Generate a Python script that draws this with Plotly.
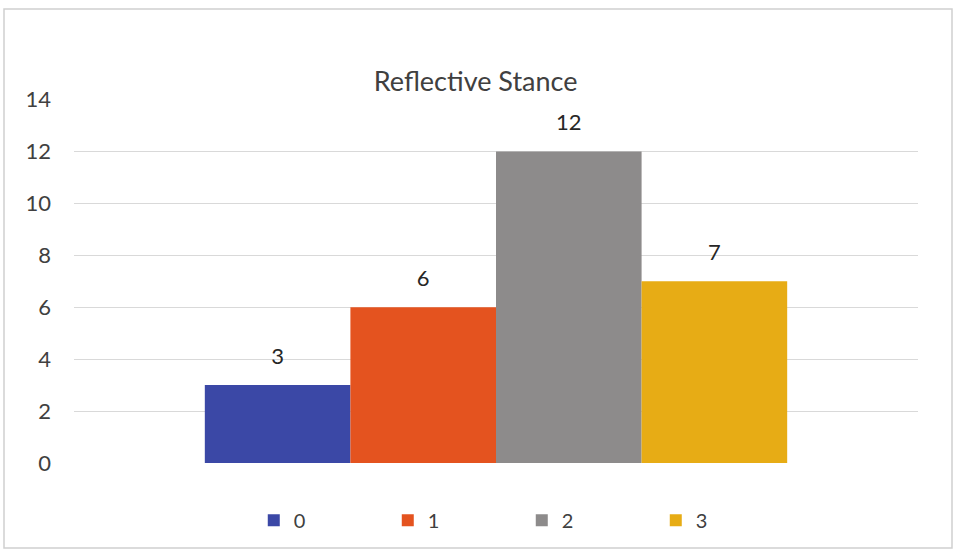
import plotly.graph_objects as go

categories = [""]
series_names = ["0", "1", "2", "3"]
series_values = [3, 6, 12, 7]
colors = ["#3B48A6", "#E4531F", "#8D8B8B", "#E7AC15"]
y_ticks = [0, 2, 4, 6, 8, 10, 12, 14]

fig = go.Figure()
for name, val, col in zip(series_names, series_values, colors):
    fig.add_trace(go.Bar(
        x=categories, y=[val], name=name, marker=dict(color=col, line=dict(width=0)),
        text=[f"<span style='font-size:22px'>{val}</span><br>&nbsp;"], textposition="outside",
        cliponaxis=False, textfont=dict(size=12, color="#262626"), hoverinfo="name+y",
    ))

fig.update_layout(
    width=958, height=552,
    margin=dict(l=74, r=40, t=99, b=89),
    paper_bgcolor="white", plot_bgcolor="white",
    font=dict(family="Lato, Open Sans, sans-serif", color="#404040"),
    title=dict(text="Reflective Stance", x=0.4965, xanchor="center", y=1 - 82/552, yanchor="middle",
               font=dict(size=27, color="#404040")),
    barmode="group", bargap=0.31, bargroupgap=0,
    showlegend=True,
    legend=dict(orientation="h", x=0.213, xanchor="left", y=-0.157, yanchor="middle",
                font=dict(size=20, color="#404040"), entrywidth=89, entrywidthmode="pixels",
                traceorder="normal", itemsizing="constant"),
    xaxis=dict(showticklabels=False, showgrid=False, zeroline=False, showline=False),
    yaxis=dict(range=[0, 14.02], tickvals=y_ticks, showgrid=True, gridcolor="#D9D9D9", gridwidth=1,
               zeroline=False, showline=False, tickfont=dict(size=22, color="#404040"),
               ticks="", ticklabelstandoff=22),
)

fig.add_shape(type="rect", xref="paper", yref="paper",
              x0=(4 - 74) / 844, x1=(952 - 74) / 844,
              y0=(463 - 548) / 364, y1=(463 - 9) / 364,
              line=dict(color="#D0D0D0", width=1.5), fillcolor="rgba(0,0,0,0)", layer="below")

fig.write_html("out.html", config={"displayModeBar": False},
               post_script="document.body.style.margin='0';document.body.style.overflow='hidden';")
